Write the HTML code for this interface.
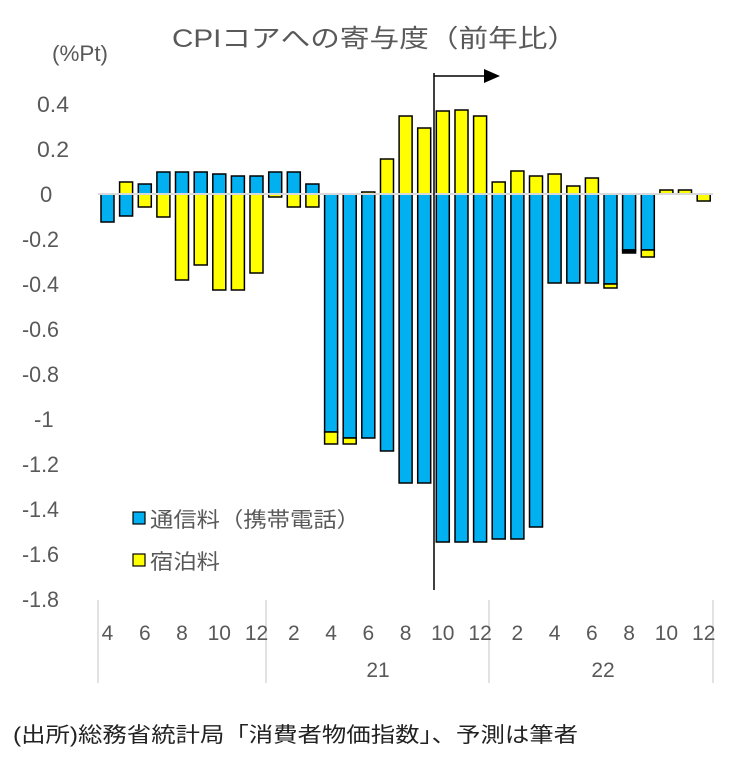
<!DOCTYPE html>
<html><head><meta charset="utf-8"><style>
html,body{margin:0;padding:0;background:#fff;}
svg{display:block;}
text{font-family:"Liberation Sans","Noto Sans CJK JP",sans-serif;}
</style></head><body>
<svg width="738" height="762" viewBox="0 0 738 762" xmlns="http://www.w3.org/2000/svg">
<text x="172" y="47" font-size="25" fill="#595959" textLength="405" lengthAdjust="spacingAndGlyphs" font-family="'Noto Sans CJK JP',sans-serif">CPIコアへの寄与度（前年比）</text>
<text x="52" y="61" font-size="22" fill="#595959" textLength="56" lengthAdjust="spacingAndGlyphs">(%Pt)</text>
<g font-size="22" fill="#595959">
<text x="37" y="112" textLength="32" lengthAdjust="spacingAndGlyphs">0.4</text>
<text x="37" y="157" textLength="32" lengthAdjust="spacingAndGlyphs">0.2</text>
<text x="40" y="202">0</text>
<text x="22" y="247" textLength="37" lengthAdjust="spacingAndGlyphs">-0.2</text>
<text x="22" y="292" textLength="37" lengthAdjust="spacingAndGlyphs">-0.4</text>
<text x="22" y="337" textLength="37" lengthAdjust="spacingAndGlyphs">-0.6</text>
<text x="22" y="382" textLength="37" lengthAdjust="spacingAndGlyphs">-0.8</text>
<text x="34" y="427">-1</text>
<text x="22" y="472" textLength="37" lengthAdjust="spacingAndGlyphs">-1.2</text>
<text x="22" y="517" textLength="37" lengthAdjust="spacingAndGlyphs">-1.4</text>
<text x="22" y="562" textLength="37" lengthAdjust="spacingAndGlyphs">-1.6</text>
<text x="22" y="607" textLength="37" lengthAdjust="spacingAndGlyphs">-1.8</text>
</g>
<g stroke="#000" stroke-width="1.5">
<rect x="101" y="194" width="13" height="28" fill="#00b0f0"/>
<rect x="119.6" y="182" width="13" height="12" fill="#ffff00"/><rect x="119.6" y="194" width="13" height="22" fill="#00b0f0"/>
<rect x="138.3" y="184" width="13" height="10" fill="#00b0f0"/><rect x="138.3" y="194" width="13" height="13" fill="#ffff00"/>
<rect x="156.9" y="172" width="13" height="22" fill="#00b0f0"/><rect x="156.9" y="194" width="13" height="23" fill="#ffff00"/>
<rect x="175.5" y="172" width="13" height="22" fill="#00b0f0"/><rect x="175.5" y="194" width="13" height="86" fill="#ffff00"/>
<rect x="194.2" y="172" width="13" height="22" fill="#00b0f0"/><rect x="194.2" y="194" width="13" height="71" fill="#ffff00"/>
<rect x="212.8" y="174" width="13" height="20" fill="#00b0f0"/><rect x="212.8" y="194" width="13" height="96" fill="#ffff00"/>
<rect x="231.4" y="176" width="13" height="18" fill="#00b0f0"/><rect x="231.4" y="194" width="13" height="96" fill="#ffff00"/>
<rect x="250" y="176" width="13" height="18" fill="#00b0f0"/><rect x="250" y="194" width="13" height="79" fill="#ffff00"/>
<rect x="268.7" y="172" width="13" height="22" fill="#00b0f0"/><rect x="268.7" y="194" width="13" height="3" fill="#ffff00"/>
<rect x="287.3" y="172" width="13" height="22" fill="#00b0f0"/><rect x="287.3" y="194" width="13" height="13" fill="#ffff00"/>
<rect x="305.9" y="184" width="13" height="10" fill="#00b0f0"/><rect x="305.9" y="194" width="13" height="13" fill="#ffff00"/>
<rect x="324.6" y="194" width="13" height="238" fill="#00b0f0"/><rect x="324.6" y="432" width="13" height="12" fill="#ffff00"/>
<rect x="343.2" y="194" width="13" height="244" fill="#00b0f0"/><rect x="343.2" y="438" width="13" height="6" fill="#ffff00"/>
<rect x="361.8" y="192" width="13" height="2" fill="#ffff00"/><rect x="361.8" y="194" width="13" height="244" fill="#00b0f0"/>
<rect x="380.5" y="159" width="13" height="35" fill="#ffff00"/><rect x="380.5" y="194" width="13" height="257" fill="#00b0f0"/>
<rect x="399.1" y="116" width="13" height="78" fill="#ffff00"/><rect x="399.1" y="194" width="13" height="289" fill="#00b0f0"/>
<rect x="417.7" y="128" width="13" height="66" fill="#ffff00"/><rect x="417.7" y="194" width="13" height="289" fill="#00b0f0"/>
<rect x="436.3" y="111" width="13" height="83" fill="#ffff00"/><rect x="436.3" y="194" width="13" height="348" fill="#00b0f0"/>
<rect x="455" y="110" width="13" height="84" fill="#ffff00"/><rect x="455" y="194" width="13" height="348" fill="#00b0f0"/>
<rect x="473.6" y="116" width="13" height="78" fill="#ffff00"/><rect x="473.6" y="194" width="13" height="348" fill="#00b0f0"/>
<rect x="492.2" y="182" width="13" height="12" fill="#ffff00"/><rect x="492.2" y="194" width="13" height="345" fill="#00b0f0"/>
<rect x="510.9" y="171" width="13" height="23" fill="#ffff00"/><rect x="510.9" y="194" width="13" height="345" fill="#00b0f0"/>
<rect x="529.5" y="176" width="13" height="18" fill="#ffff00"/><rect x="529.5" y="194" width="13" height="333" fill="#00b0f0"/>
<rect x="548.1" y="174" width="13" height="20" fill="#ffff00"/><rect x="548.1" y="194" width="13" height="89" fill="#00b0f0"/>
<rect x="566.8" y="186" width="13" height="8" fill="#ffff00"/><rect x="566.8" y="194" width="13" height="89" fill="#00b0f0"/>
<rect x="585.4" y="178" width="13" height="16" fill="#ffff00"/><rect x="585.4" y="194" width="13" height="89" fill="#00b0f0"/>
<rect x="604" y="194" width="13" height="90" fill="#00b0f0"/><rect x="604" y="284" width="13" height="4" fill="#ffff00"/>
<rect x="622.6" y="194" width="13" height="56" fill="#00b0f0"/><rect x="622.6" y="250" width="13" height="3" fill="#000"/>
<rect x="641.3" y="194" width="13" height="56" fill="#00b0f0"/><rect x="641.3" y="250" width="13" height="7" fill="#ffff00"/>
<rect x="659.9" y="190" width="13" height="4" fill="#ffff00"/>
<rect x="678.5" y="190" width="13" height="4" fill="#ffff00"/>
<rect x="697.2" y="194" width="13" height="7" fill="#ffff00"/>
</g>
<line x1="98" y1="194" x2="713" y2="194" stroke="#d9d9d9" stroke-width="2"/>
<line x1="434" y1="73" x2="434" y2="590" stroke="#000" stroke-width="1.5"/>
<line x1="434" y1="76" x2="486" y2="76" stroke="#000" stroke-width="1.5"/>
<polygon points="484,69 500,76 484,83" fill="#000"/>
<g stroke="#d9d9d9" stroke-width="1.5">
<line x1="98" y1="600" x2="98" y2="683"/>
<line x1="266" y1="600" x2="266" y2="683"/>
<line x1="489" y1="600" x2="489" y2="683"/>
<line x1="713" y1="600" x2="713" y2="683"/>
</g>
<g font-size="21" fill="#595959" text-anchor="middle">
<text x="107.5" y="640">4</text><text x="144.8" y="640">6</text><text x="182" y="640">8</text><text x="219.3" y="640">10</text><text x="256.5" y="640">12</text>
<text x="293.8" y="640">2</text><text x="331.1" y="640">4</text><text x="368.3" y="640">6</text><text x="405.6" y="640">8</text><text x="442.8" y="640">10</text><text x="480.1" y="640">12</text>
<text x="517.4" y="640">2</text><text x="554.6" y="640">4</text><text x="591.9" y="640">6</text><text x="629.1" y="640">8</text><text x="666.4" y="640">10</text><text x="703.7" y="640">12</text>
<text x="378" y="677">21</text><text x="603" y="677">22</text>
</g>
<rect x="133" y="512" width="12" height="12" fill="#00b0f0" stroke="#000" stroke-width="1.2"/>
<text x="150" y="527" font-size="21" fill="#595959" textLength="210" lengthAdjust="spacingAndGlyphs">通信料（携帯電話）</text>
<rect x="133" y="554" width="12" height="12" fill="#ffff00" stroke="#000" stroke-width="1.2"/>
<text x="150" y="569" font-size="21" fill="#595959" textLength="70" lengthAdjust="spacingAndGlyphs">宿泊料</text>
<text x="13" y="742" font-size="21" fill="#222" textLength="565" lengthAdjust="spacingAndGlyphs">(出所)総務省統計局「消費者物価指数」、予測は筆者</text>
</svg>
</body></html>
